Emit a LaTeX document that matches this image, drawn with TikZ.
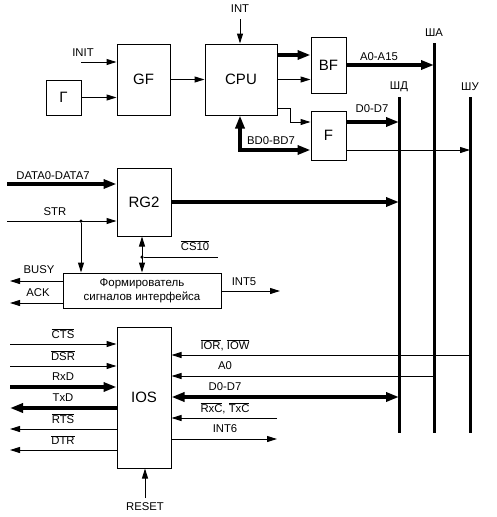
\documentclass[tikz,border=0pt]{standalone}
\usepackage{fontspec}
\setmainfont{Liberation Sans}
\usetikzlibrary{arrows.meta,calc,positioning}
\newcommand{\ovl}[1]{$\overline{\mbox{#1}}$}
\tikzset{sig/.style={line width=1pt,-{Triangle[length=10pt,width=6pt]}},
  dsig/.style={line width=1pt,{Triangle[length=10pt,width=6pt]}-{Triangle[length=10pt,width=6pt]}},
  wide/.style={line width=3.5pt,-{Triangle[length=13pt,width=9pt]}},
  dwide/.style={line width=3.5pt,{Triangle[length=13pt,width=9pt]}-{Triangle[length=13pt,width=9pt]}},
  busline/.style={line width=3pt},
  blk/.style={draw, line width=1pt, inner sep=0pt, font=\fontsize{15}{17}\selectfont},
  lbl/.style={inner sep=0pt, font=\fontsize{11.3}{13}\selectfont},
  jdot/.style={circle, fill, inner sep=0pt, minimum size=3.5pt}}

\begin{document}
\begin{tikzpicture}[x=1pt,y=-1pt]
  \useasboundingbox (0,0) rectangle (497,517);
  % blocks
  \node[blk, minimum width=35pt, minimum height=35pt] (G) at (63.5,97.5) {Г};
  \node[blk, minimum width=53pt, minimum height=71pt] (GF) at (143.5,79.5) {GF};
  \node[blk, minimum width=72pt, minimum height=71pt] (CPU) at (241,79.5) {CPU};
  \node[blk, minimum width=35pt, minimum height=56pt] (BF) at (328.5,65) {BF};
  \node[blk, minimum width=35pt, minimum height=49pt] (F) at (328.5,135.5) {F};
  \node[blk, minimum width=54pt, minimum height=68pt] (RG2) at (144,202) {RG2};
  \node[blk, minimum width=158pt, minimum height=35pt, align=center,
    font=\fontsize{11.5}{14}\selectfont] (FS) at (142,290.5) {Формирователь\\сигналов интерфейса};
  \node[blk, minimum width=54pt, minimum height=141pt] (IOS) at (144,397.5) {IOS};
  % buses
  \coordinate (shaT) at (434,43); \coordinate (shaB) at (434,433);
  \coordinate (shdT) at (399,97); \coordinate (shdB) at (399,433);
  \coordinate (shuT) at (470,97); \coordinate (shuB) at (470,433);
  \foreach \b/\t in {sha/ША,shd/ШД,shu/ШУ}{
    \draw[busline] (\b T) -- (\b B);
    \node[lbl] at ($(\b T)+(0,-10)$) {\t};}
  % processor part
  \coordinate (init) at (81,62);
  \draw[sig] (init) -- (init -| GF.west);
  \node[lbl] at (83,53) {INIT};
  \draw[sig] (G.east) -- (G.east -| GF.west);
  \draw[sig] (GF.east) -- (CPU.west);
  \coordinate (intin) at (240,19);
  \draw[sig] (intin) -- (intin |- CPU.north);
  \node[lbl] at (240,9) {INT};
  \draw[wide] (CPU.east |- 0,55) -- (BF.west |- 0,55);
  \draw[sig] (CPU.east) -- (CPU.east -| BF.west);
  \coordinate (cf) at (290,108);
  \draw[sig] (CPU.east |- cf) -- (cf) -- (cf |- 0,122) -- (F.west |- 0,122);
  \draw[wide] (BF.east) -- (BF.east -| shaT);
  \node[lbl] at (379,57) {A0-A15};
  \draw[wide] (F.east |- 0,122) -- (shdT |- 0,122);
  \node[lbl] at (372,109) {D0-D7};
  \draw[sig] (F.east |- 0,150) -- (shuT |- 0,150);
  \coordinate (bd) at (240,150);
  \draw[dwide] (F.west |- bd) -- (bd) -- (bd |- CPU.south);
  \node[lbl] at (271,141) {BD0-BD7};
  % printer interface
  \coordinate (data) at (7,184);
  \draw[wide] (data) -- (data -| RG2.west);
  \node[lbl] at (53,176) {DATA0-DATA7};
  \coordinate (str) at (7,221);
  \draw[sig] (str) -- (str -| RG2.west);
  \node[lbl] at (55,212) {STR};
  \node[jdot] (strj) at (81,221) {};
  \draw[sig] (strj) -- (strj |- FS.north);
  \draw[wide] (RG2.east) -- (RG2.east -| shdT);
  \draw[dsig] (RG2.south -| 142,0) -- (FS.north -| 142,0);
  \node[jdot] (csj) at (142,257) {};
  \coordinate (cs) at (218,257);
  \draw[line width=1pt] (csj) -- (cs);
  \node[lbl] at (195,246) {\ovl{CS10}};
  \coordinate (busy) at (10,281);
  \draw[sig] (FS.west |- busy) -- (busy);
  \node[lbl] at (39,270) {BUSY};
  \coordinate (ack) at (10,303);
  \draw[sig] (FS.west |- ack) -- (ack);
  \node[lbl] at (38,293) {ACK};
  \coordinate (int5) at (280,291);
  \draw[sig] (FS.east |- int5) -- (int5);
  \node[lbl] at (244,282) {INT5};
  % serial interface, left side
  \foreach \y/\t/\s in {344/{\ovl{CTS}}/sig,366/{\ovl{DSR}}/sig,387/RxD/wide}{
    \coordinate (in\y) at (10,\y);
    \draw[\s] (in\y) -- (in\y -| IOS.west);
    \node[lbl] at (63,\y-10) {\t};}
  \foreach \y/\t/\s in {408/TxD/wide,429/{\ovl{RTS}}/sig,450/{\ovl{DTR}}/sig}{
    \coordinate (out\y) at (10,\y);
    \draw[\s] (out\y -| IOS.west) -- (out\y);
    \node[lbl] at (63,\y-10) {\t};}
  % serial interface, right side
  \draw[sig] (shuB |- 0,355) -- (IOS.east |- 0,355);
  \node[lbl] at (225,345) {\ovl{IOR}, \ovl{IOW}};
  \draw[sig] (shaB |- 0,376) -- (IOS.east |- 0,376);
  \node[lbl] at (225,366) {A0};
  \draw[dwide] (IOS.east |- 0,397) -- (shdB |- 0,397);
  \node[lbl] at (225,387) {D0-D7};
  \coordinate (rxc) at (277,418);
  \draw[sig] (rxc) -- (rxc -| IOS.east);
  \node[lbl] at (225,408) {\ovl{RxC}, \ovl{TxC}};
  \coordinate (int6) at (277,439);
  \draw[sig] (int6 -| IOS.east) -- (int6);
  \node[lbl] at (225,429) {INT6};
  \coordinate (reset) at (145,498);
  \draw[sig] (reset) -- (reset |- IOS.south);
  \node[lbl] at (145,507) {RESET};
\end{tikzpicture}
\end{document}
